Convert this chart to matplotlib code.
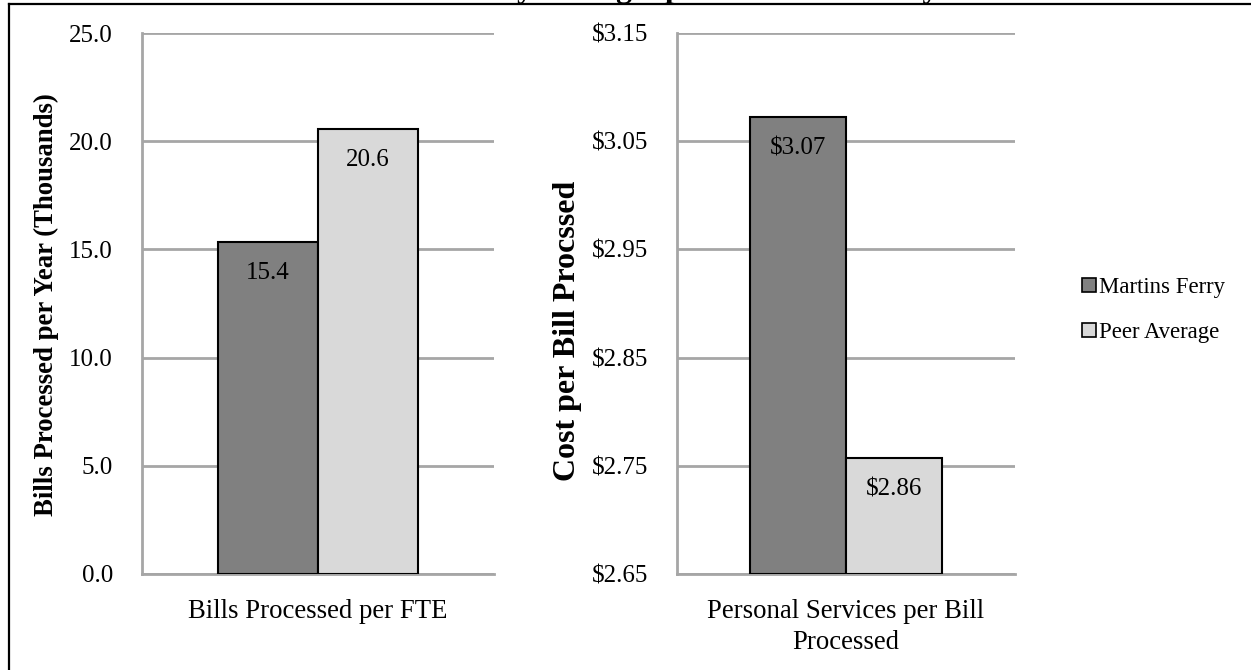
import matplotlib
matplotlib.use("Agg")
import matplotlib.pyplot as plt
from matplotlib.lines import Line2D
from matplotlib.patches import Patch

plt.rcParams['font.family'] = ['Liberation Serif', 'DejaVu Serif']

title = "Utility Billing Operations Efficiency"
series = ["Martins Ferry", "Peer Average"]
colors = ["#808080", "#d9d9d9"]

left_category = "Bills Processed per FTE"
left_values = [15.35, 20.57]
left_labels = ["15.4", "20.6"]
left_ticks = [0.0, 5.0, 10.0, 15.0, 20.0, 25.0]
left_ylabel = "Bills Processed per Year (Thousands)"

right_category = "Personal Services per Bill\nProcessed"
right_values = [3.072, 2.757]
right_labels = ["$3.07", "$2.86"]
right_ticks = [2.65, 2.75, 2.85, 2.95, 3.05, 3.15]
right_ylabel = "Cost per Bill Procssed"

W, H = 1251, 670
fig = plt.figure(figsize=(W / 100, H / 100), dpi=100)

def px_axes(x0, x1, y0, y1):
    return fig.add_axes([x0 / W, 1 - y1 / H, (x1 - x0) / W, (y1 - y0) / H])

ax1 = px_axes(142, 494, 33, 574)
ax2 = px_axes(677, 1015, 33, 574)

grid_color = "#a6a6a6"
bw = 0.284

def draw(ax, values, labels, ticks, fmt, category, ylabel, ylabel_size):
    base = ticks[0]
    for i, (v, c, lab) in enumerate(zip(values, colors, labels)):
        x = (i - 0.5) * bw
        ax.bar(x, v - base, bottom=base, width=bw, color=c, edgecolor="black",
               linewidth=1.5, zorder=3)
        ax.annotate(lab, (x, v), xytext=(0, -31), textcoords="offset pixels",
                    ha="center", va="center", fontsize=18, zorder=4)
    ax.set_xlim(-0.5, 0.5)
    ax.set_ylim(ticks[0], ticks[-1])
    ax.set_yticks(ticks)
    ax.set_yticklabels([fmt(t) for t in ticks], fontsize=18)
    ax.set_xticks([0])
    ax.set_xticklabels([category], fontsize=19.3, linespacing=1.33, va="top")
    ax.tick_params(axis="both", length=0)
    ax.tick_params(axis="y", pad=21)
    ax.tick_params(axis="x", pad=18)
    ax.yaxis.grid(True, color=grid_color, linewidth=2, zorder=0)
    ax.set_axisbelow(True)
    for s in ["top", "right"]:
        ax.spines[s].set_visible(False)
    for s in ["left", "bottom"]:
        ax.spines[s].set_color(grid_color)
        ax.spines[s].set_linewidth(2)
    ax.set_ylabel(ylabel, fontsize=ylabel_size, fontweight="bold")

draw(ax1, left_values, left_labels, left_ticks, lambda t: f"{t:.1f}", left_category, left_ylabel, 19.3)
draw(ax2, right_values, right_labels, right_ticks, lambda t: f"${t:.2f}", right_category, right_ylabel, 23)

ax1.yaxis.set_label_coords(-(142 - 59) / 352, (574 - 305) / 541)
ax2.yaxis.set_label_coords(-(677 - 582) / 338, (574 - 331) / 541)

handles = [Patch(facecolor=c, edgecolor="black", linewidth=1.2) for c in colors]
fig.legend(handles, series, loc="center left", bbox_to_anchor=(1082 / W, 1 - 310 / H),
           frameon=False, fontsize=16.4, handlelength=0.6, handleheight=0.6,
           handletextpad=0.15, labelspacing=1.05, borderaxespad=0, borderpad=0)

# outer frame (top and left edges)
fig.add_artist(Line2D([9 / W, 1.0], [1 - 4 / H, 1 - 4 / H], color="black", linewidth=1.6))
fig.add_artist(Line2D([9 / W, 9 / W], [0, 1 - 4 / H], color="black", linewidth=1.6))

# title (mostly cut off at the top, as in the reference)
fig.text(692 / W, 1 + 3 / H, title, ha="center", va="baseline", fontsize=23, fontweight="bold")

fig.savefig("out.png", dpi=100)
